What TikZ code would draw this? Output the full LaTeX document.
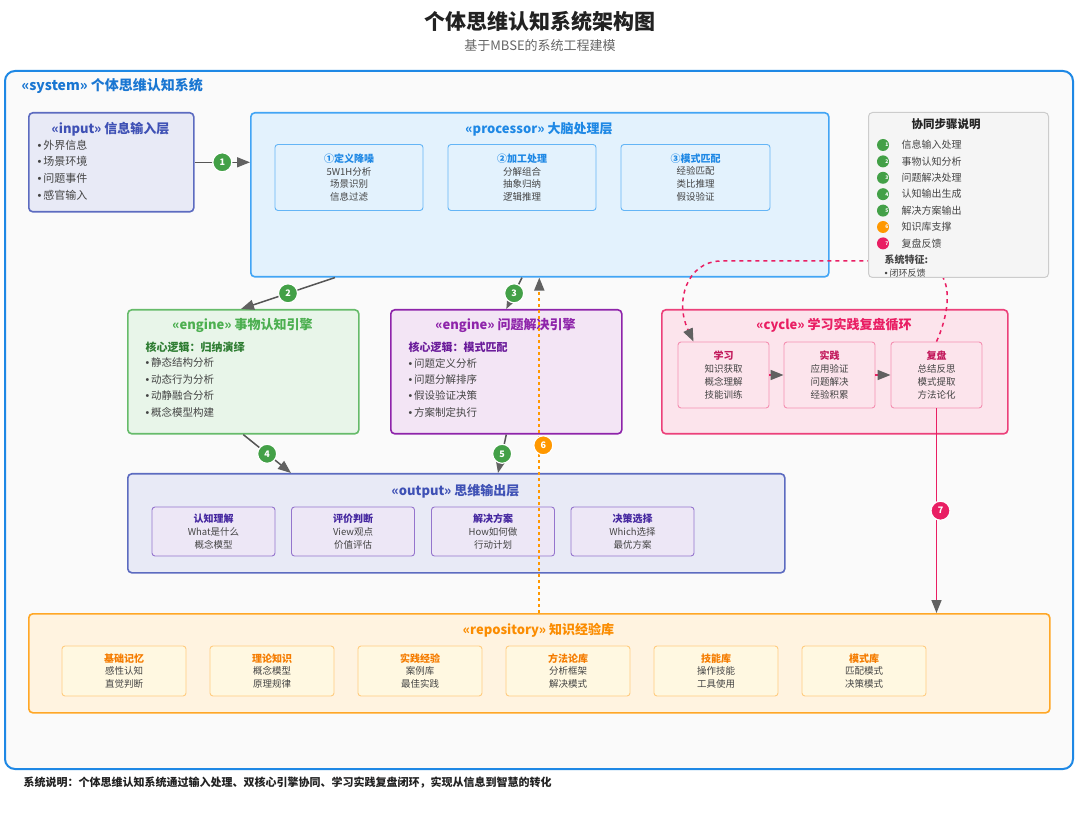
\documentclass[tikz,border=0pt]{standalone}
\usepackage{fontspec}
\setmainfont{Noto Sans CJK SC}
\newfontfamily\latinf{Liberation Sans}
\usetikzlibrary{arrows.meta,calc}
\definecolor{sysblue}{HTML}{1E88E5}
\definecolor{systxt}{HTML}{1976D2}
\definecolor{bgsys}{HTML}{FAFAFA}
\definecolor{inpfill}{HTML}{E8EAF6}
\definecolor{inpdraw}{HTML}{5C6BC0}
\definecolor{inptxt}{HTML}{3F51B5}
\definecolor{procfill}{HTML}{E3F2FD}
\definecolor{procdraw}{HTML}{42A5F5}
\definecolor{procsub}{HTML}{64B5F6}
\definecolor{proctxt}{HTML}{1E88E5}
\definecolor{e1fill}{HTML}{E8F5E9}
\definecolor{e1draw}{HTML}{66BB6A}
\definecolor{e1txt}{HTML}{4CAF50}
\definecolor{e1core}{HTML}{2E7D32}
\definecolor{e2fill}{HTML}{F3E5F5}
\definecolor{e2draw}{HTML}{8E24AA}
\definecolor{e2txt}{HTML}{8E24AA}
\definecolor{e2core}{HTML}{6A1B9A}
\definecolor{cyfill}{HTML}{FCE4EC}
\definecolor{cydraw}{HTML}{EC407A}
\definecolor{cytxt}{HTML}{E91E63}
\definecolor{cysub}{HTML}{F48FB1}
\definecolor{cysubtxt}{HTML}{C2185B}
\definecolor{outsubfill}{HTML}{EDE7F6}
\definecolor{outsubdraw}{HTML}{9575CD}
\definecolor{outsubtxt}{HTML}{4527A0}
\definecolor{repfill}{HTML}{FFF3E0}
\definecolor{repdraw}{HTML}{FFA726}
\definecolor{reptxt}{HTML}{FB8C00}
\definecolor{repsubfill}{HTML}{FFF8E1}
\definecolor{repsubdraw}{HTML}{FFCC80}
\definecolor{repsubtxt}{HTML}{F57C00}
\definecolor{legfill}{HTML}{F5F5F5}
\definecolor{legdraw}{HTML}{CCCCCC}
\definecolor{numgreen}{HTML}{43A047}
\definecolor{numorange}{HTML}{FF9800}
\definecolor{numpink}{HTML}{E91E63}
\definecolor{agray}{HTML}{616161}
\definecolor{linegray}{HTML}{555555}
\definecolor{bodytxt}{HTML}{444444}
\definecolor{dark}{HTML}{222222}
\definecolor{midgray}{HTML}{666666}
\newcommand\bul{{\latinf •}\hspace{2pt}}
\begin{document}
\begin{tikzpicture}[x=1pt,y=-1pt,
  >={Triangle[length=13pt,width=10pt,color=agray]},
  bigbox/.style={rectangle,rounded corners=4pt,line width=1.6pt,inner sep=0pt,anchor=north west},
  subbox/.style={rectangle,rounded corners=3pt,line width=0.9pt,inner sep=0pt,align=center,
     text=bodytxt,font=\fontsize{9.5}{12.8}\selectfont},
  boxtitle/.style={font=\bfseries\fontsize{13}{13}\selectfont},
  itemtxt/.style={anchor=west,text=bodytxt,font=\fontsize{10.5}{10.5}\selectfont},
  conn/.style={draw=linegray,line width=1.5pt},
  numc/.style={circle,solid,fill=numgreen,draw=white,line width=1.2pt,text=white,inner sep=0pt,
     minimum size=19pt,font=\bfseries\fontsize{9}{9}\selectfont},
  legdot/.style={circle,inner sep=0pt,minimum size=12pt},
  legtxt/.style={anchor=west,text=bodytxt,font=\fontsize{10}{10}\selectfont}]
\useasboundingbox (0,0) rectangle (1080,826);
\fill[white] (0,0) rectangle (1080,826);

% titles
\node[font=\bfseries\fontsize{21}{21}\selectfont,text=dark] (title) at (540,22) {个体思维认知系统架构图};
\node[font=\fontsize{13}{13}\selectfont,text=midgray] (subtitle) at (540,46) {基于MBSE的系统工程建模};

% system frame
\node[draw=sysblue,fill=bgsys,line width=2pt,rounded corners=10pt,inner sep=0pt,anchor=north west,
  minimum width=1068pt,minimum height=698pt] (sys) at (4,70) {};
\node[anchor=west,font=\bfseries\fontsize{14}{14}\selectfont,text=systxt] (systitle) at (18,86) {«system» 个体思维认知系统};

% input
\node[bigbox,draw=inpdraw,fill=inpfill,minimum width=165pt,minimum height=99pt] (inp) at (28,112) {};
\node[boxtitle,text=inptxt] (inpt) at (110.5,129) {«input» 信息输入层};
\foreach \t [count=\i] in {外界信息,场景环境,问题事件,感官输入}
  \node[itemtxt,font=\fontsize{11}{11}\selectfont] (inpi\i) at (34,{145+16.6*(\i-1)}) {\bul\t};

% processor
\node[bigbox,draw=procdraw,fill=procfill,minimum width=578pt,minimum height=164pt] (proc) at (250,112) {};
\node[boxtitle,text=proctxt] (proct) at (539,129) {«processor» 大脑处理层};
\node[subbox,draw=procsub,fill=procfill,minimum width=148pt,minimum height=66pt] (p1) at (349,177.5)
  {{\color{proctxt}\bfseries\fontsize{10}{12.8}\selectfont ①定义降噪}\\5W1H分析\\场景识别\\信息过滤};
\node[subbox,draw=procsub,fill=procfill,minimum width=148pt,minimum height=66pt] (p2) at (522,177.5)
  {{\color{proctxt}\bfseries\fontsize{10}{12.8}\selectfont ②加工处理}\\分解组合\\抽象归纳\\逻辑推理};
\node[subbox,draw=procsub,fill=procfill,minimum width=149pt,minimum height=66pt] (p3) at (695.5,177.5)
  {{\color{proctxt}\bfseries\fontsize{10}{12.8}\selectfont ③模式匹配}\\经验匹配\\类比推理\\假设验证};

% engine 1
\node[bigbox,draw=e1draw,fill=e1fill,minimum width=231pt,minimum height=124pt] (eng1) at (127,309) {};
\node[boxtitle,text=e1txt] (eng1t) at (242.5,325) {«engine» 事物认知引擎};
\node[anchor=west,text=e1core,font=\bfseries\fontsize{11}{11}\selectfont] (eng1c) at (142,347) {核心逻辑：归纳演绎};
\foreach \t [count=\i] in {静态结构分析,动态行为分析,动静融合分析,概念模型构建}
  \node[itemtxt] (eng1i\i) at (142,{363+16.4*(\i-1)}) {\bul\t};

% engine 2
\node[bigbox,draw=e2draw,fill=e2fill,minimum width=231pt,minimum height=124pt] (eng2) at (390,309) {};
\node[boxtitle,text=e2txt] (eng2t) at (505.5,325) {«engine» 问题解决引擎};
\node[anchor=west,text=e2core,font=\bfseries\fontsize{11}{11}\selectfont] (eng2c) at (405,347) {核心逻辑：模式匹配};
\foreach \t [count=\i] in {问题定义分析,问题分解排序,假设验证决策,方案制定执行}
  \node[itemtxt] (eng2i\i) at (405,{363+16.4*(\i-1)}) {\bul\t};

% cycle
\node[bigbox,draw=cydraw,fill=cyfill,minimum width=346pt,minimum height=124pt] (cyc) at (661,309) {};
\node[boxtitle,text=cytxt] (cyct) at (834,325) {«cycle» 学习实践复盘循环};
\node[subbox,draw=cysub,fill=cyfill,minimum width=91pt,minimum height=66pt] (xue) at (723.5,375)
  {{\color{cysubtxt}\bfseries\fontsize{10}{12.8}\selectfont 学习}\\知识获取\\概念理解\\技能训练};
\node[subbox,draw=cysub,fill=cyfill,minimum width=91pt,minimum height=66pt] (shi) at (829.5,375)
  {{\color{cysubtxt}\bfseries\fontsize{10}{12.8}\selectfont 实践}\\应用验证\\问题解决\\经验积累};
\node[subbox,draw=cysub,fill=cyfill,minimum width=91pt,minimum height=66pt] (fu) at (936.5,375)
  {{\color{cysubtxt}\bfseries\fontsize{10}{12.8}\selectfont 复盘}\\总结反思\\模式提取\\方法论化};
\draw[draw=numpink,line width=1.5pt,->] (xue.east) -- (shi.west);
\draw[draw=numpink,line width=1.5pt,->] (shi.east) -- (fu.west);

% feedback dashed loop (behind legend)
\draw[draw=numpink,line width=1.5pt,dash pattern=on 4pt off 4pt,->]
  (fu.north) .. controls (950,312) and (958,264) .. (915,261) -- (720,261)
  .. controls (688,262) and (674,300) .. ([xshift=-30pt]xue.north);

% legend
\node[bigbox,draw=legdraw,fill=legfill,line width=1pt,minimum width=180pt,minimum height=165pt] (leg) at (868,112) {};
\node[text=dark,font=\bfseries\fontsize{11.5}{11.5}\selectfont] (legt) at (946,124) {协同步骤说明};
\foreach \c/\t [count=\i] in {numgreen/信息输入处理,numgreen/事物认知分析,numgreen/问题解决处理,numgreen/认知输出生成,numgreen/解决方案输出,numorange/知识库支撑,numpink/复盘反馈} {
  \node[legdot,fill=\c] (legd\i) at (883,{145+16.4*(\i-1)}) {};
  \node[text=white,font=\bfseries\fontsize{5}{5}\selectfont,inner sep=0pt] (legn\i) at ([xshift=4pt]legd\i.center) {\i};
  \node[legtxt] (legi\i) at (898,{145+16.4*(\i-1)}) {\t};
}
\node[anchor=west,text=bodytxt,font=\bfseries\fontsize{10}{10}\selectfont] (legf) at (881,260) {系统特征:};
\node[anchor=west,text=bodytxt,font=\fontsize{9}{9}\selectfont] (legf1) at (881,273) {\bul 闭环反馈};

% output
\node[bigbox,draw=inpdraw,fill=inpfill,minimum width=657pt,minimum height=99pt] (outp) at (127,473) {};
\node[boxtitle,text=inptxt] (outpt) at (455.5,491) {«output» 思维输出层};
\foreach \x/\a/\b/\c [count=\i] in {213.5/认知理解/What是什么/概念模型,353/评价判断/View观点/价值评估,493/解决方案/How如何做/行动计划,632.5/决策选择/Which选择/最优方案}
  \node[subbox,draw=outsubdraw,fill=outsubfill,minimum width=123pt,minimum height=49pt] (o\i) at (\x,531.5)
   {{\color{outsubtxt}\bfseries\fontsize{10}{12.5}\selectfont \a}\\\b\\\c};

% repository
\node[bigbox,draw=repdraw,fill=repfill,minimum width=1021pt,minimum height=99pt] (repo) at (28,613) {};
\node[boxtitle,text=reptxt] (repot) at (538.5,630) {«repository» 知识经验库};
\foreach \x/\a/\b/\c [count=\i] in {124/基础记忆/感性认知/直觉判断,272/理论知识/概念模型/原理规律,420/实践经验/案例库/最佳实践,568/方法论库/分析框架/解决模式,716/技能库/操作技能/工具使用,864/模式库/匹配模式/决策模式}
  \node[subbox,draw=repsubdraw,fill=repsubfill,minimum width=124pt,minimum height=50pt] (r\i) at (\x,671)
   {{\color{repsubtxt}\bfseries\fontsize{10}{12.2}\selectfont \a}\\\b\\\c};

% connectors
\draw[conn,->] (inp.east) -- (inp.east -| proc.west) node[numc,pos=0.5] (n1) {1};
\draw[conn,->] ([xshift=85pt]proc.south west) -- ([xshift=114pt]eng1.north west) node[numc,pos=0.5] (n2) {2};
\draw[conn,->] ([xshift=272pt]proc.south west) -- (eng2.north) node[numc,pos=0.5] (n3) {3};
\draw[conn,->] (eng1.south) -- ([xshift=164pt]outp.north west) node[numc,pos=0.5] (n4) {4};
\draw[conn,->] (eng2.south) -- ([xshift=371pt]outp.north west) node[numc,pos=0.5] (n5) {5};
\draw[draw=numorange,line width=2pt,dash pattern=on 3pt off 3pt,->] (repo.north) -- (repo.north |- proc.south)
  node[numc,fill=numorange,pos=0.5,xshift=4pt] (n6) {6};
\draw[draw=numpink,line width=1.5pt,->] (fu.south) -- (fu.south |- repo.north)
  node[numc,fill=numpink,pos=0.5,xshift=4pt] (n7) {7};

% footer
\node[anchor=west,text=dark,font=\bfseries\fontsize{11}{11}\selectfont] (foot) at (20,783)
  {系统说明：个体思维认知系统通过输入处理、双核心引擎协同、学习实践复盘闭环，实现从信息到智慧的转化};
\end{tikzpicture}
\end{document}
